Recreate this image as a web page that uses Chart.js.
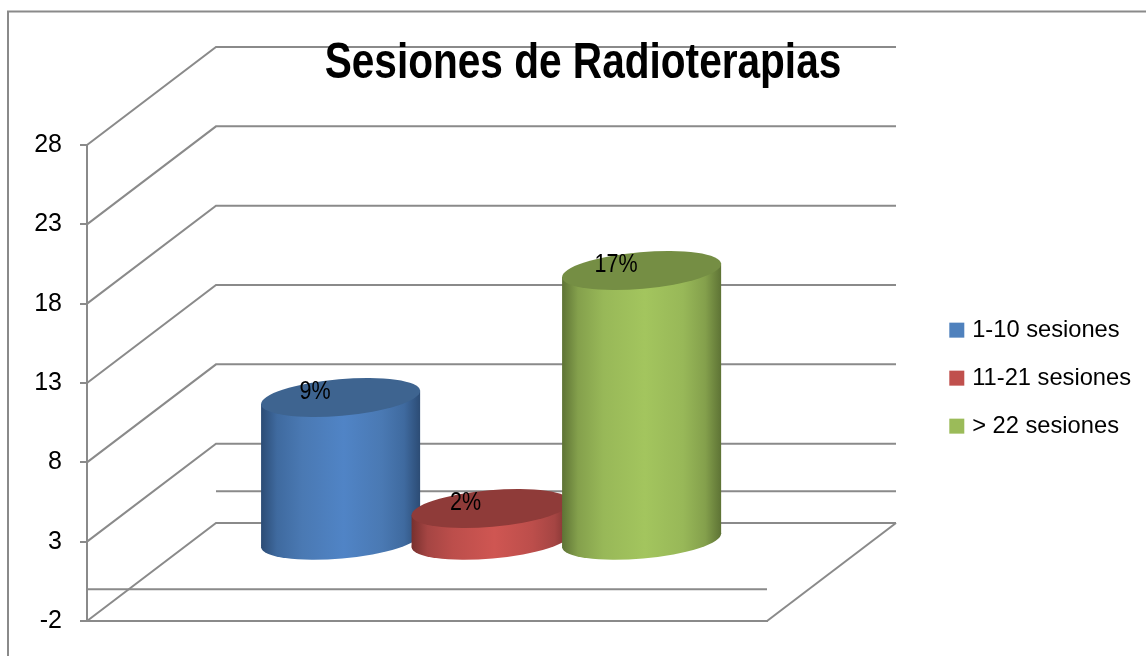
<!DOCTYPE html>
<html lang="es">
<head>
<meta charset="utf-8">
<title>Sesiones de Radioterapias</title>
<script src="https://cdn.jsdelivr.net/npm/chart.js@4"></script>
<style>
html,body{margin:0;padding:0;background:#fff;overflow:hidden}
canvas{display:block}
</style>
</head>
<body>
<canvas id="c" width="1146" height="656"></canvas>
<script>
const chartTitle = 'Sesiones de Radioterapias';
const categories = [''];
const seriesNames = ['1-10 sesiones', '11-21 sesiones', '> 22 sesiones'];
const seriesValues = [9, 2, 17];
const seriesLabels = ['9%', '2%', '17%'];
const axisMin = -2;
const axisMax = 28;
const axisStep = 5;

const baseColors = ['#4f81bd', '#c0504d', '#9bbb59'];
const sideShades = [
  ['#2c4c75', '#3f6a9f', '#4a79b3', '#5084c6', '#4a79b3', '#3f6a9f', '#2c4c75'],
  ['#78302e', '#a54543', '#bc4e4b', '#cf5652', '#bc4e4b', '#a54543', '#78302e'],
  ['#5e7335', '#84a04c', '#98b858', '#a3c55e', '#98b858', '#84a04c', '#5e7335']
];
const capColors = ['#3e6490', '#8f3b39', '#758e44'];
const shadeStops = [0, 0.1, 0.26, 0.52, 0.76, 0.9, 1];

const GRID = '#8a8a8a';
const DEPTH_X = 129, DEPTH_Y = 98;
const TILT = -5 * Math.PI / 180;
const TITLE_CENTER = 583, TITLE_SQUEEZE = 0.82;

function line(ctx, pts) {
  ctx.beginPath();
  pts.forEach((p, i) => i ? ctx.lineTo(p[0], p[1]) : ctx.moveTo(p[0], p[1]));
  ctx.stroke();
}

const scene = {
  id: 'scene',
  afterLayout(chart) {
    const t = chart.titleBlock;
    t.left = 0; t.right = TITLE_CENTER * 2;
    if (!t._squeezed) {
      const draw = t.draw.bind(t);
      t.draw = () => {
        const ctx = chart.ctx;
        ctx.save();
        ctx.translate(TITLE_CENTER, 0);
        ctx.scale(TITLE_SQUEEZE, 1);
        ctx.translate(-TITLE_CENTER, 0);
        draw();
        ctx.restore();
      };
      t._squeezed = true;
    }
    const l = chart.legend;
    l.left = 929; l.right = chart.width; l.top = 294; l.bottom = 600;
  },
  beforeDraw(chart) {
    const ctx = chart.ctx, y = chart.scales.y, a = chart.chartArea;
    ctx.save();
    ctx.fillStyle = '#fff';
    ctx.fillRect(0, 0, chart.width, chart.height);
    ctx.strokeStyle = GRID;
    ctx.lineWidth = 2;
    line(ctx, [[8, chart.height], [8, 11.5], [chart.width, 11.5]]);
    y.ticks.forEach(t => {
      const py = y.getPixelForValue(t.value);
      line(ctx, [[a.left, py], [a.left + DEPTH_X, py - DEPTH_Y], [a.right + DEPTH_X, py - DEPTH_Y]]);
    });
    const bottom = y.getPixelForValue(axisMin);
    line(ctx, [[a.right, bottom], [a.right + DEPTH_X, bottom - DEPTH_Y]]);
    const zero = y.getPixelForValue(0);
    line(ctx, [[a.left, zero], [a.right, zero]]);
    line(ctx, [[a.left + DEPTH_X, zero - DEPTH_Y], [a.right + DEPTH_X, zero - DEPTH_Y]]);
    ctx.restore();
  },
  beforeDatasetsDraw(chart) {
    const ctx = chart.ctx;
    const dx = DEPTH_X / 2, dy = DEPTH_Y / 2;
    chart.data.datasets.forEach((ds, i) => {
      const bar = chart.getDatasetMeta(i).data[0];
      const cx = bar.x + dx - 0.4, top = bar.y - dy, base = bar.base - dy;
      const rx = bar.width / 2 + 0.8, ry = rx * 0.229;
      const ex = Math.sqrt(rx * rx * Math.cos(TILT) ** 2 + ry * ry * Math.sin(TILT) ** 2);
      const off = (rx * rx - ry * ry) * Math.sin(TILT) * Math.cos(TILT) / ex;
      const g = ctx.createLinearGradient(cx - ex, 0, cx + ex, 0);
      shadeStops.forEach((s, k) => g.addColorStop(s, sideShades[i][k]));
      ctx.save();
      ctx.fillStyle = g;
      ctx.beginPath();
      ctx.ellipse(cx, base, rx, ry, TILT, 0, Math.PI * 2);
      ctx.fill();
      ctx.beginPath();
      ctx.moveTo(cx - ex, top - off);
      ctx.lineTo(cx - ex, base - off);
      ctx.lineTo(cx + ex, base + off);
      ctx.lineTo(cx + ex, top + off);
      ctx.closePath();
      ctx.fill();
      ctx.fillStyle = capColors[i];
      ctx.beginPath();
      ctx.ellipse(cx, top, rx, ry, TILT, 0, Math.PI * 2);
      ctx.fill();
      ctx.restore();
    });
    chart.data.datasets.forEach((ds, i) => {
      const bar = chart.getDatasetMeta(i).data[0];
      ctx.save();
      ctx.fillStyle = '#000';
      ctx.font = '25px "Liberation Sans"';
      ctx.textAlign = 'center';
      ctx.textBaseline = 'middle';
      ctx.translate(bar.x + dx - 26, bar.y - dy - 5);
      ctx.scale(0.86, 1);
      ctx.fillText(seriesLabels[i], 0, 0);
      ctx.restore();
    });
    return false;
  }
};

new Chart(document.getElementById('c'), {
  type: 'bar',
  data: {
    labels: categories,
    datasets: seriesNames.map((name, i) => ({
      label: name,
      data: [seriesValues[i]],
      backgroundColor: baseColors[i],
      borderColor: baseColors[i],
      borderWidth: 8,
      categoryPercentage: 0.664,
      barPercentage: 1.05
    }))
  },
  plugins: [scene],
  options: {
    responsive: false,
    animation: false,
    layout: { padding: { left: 0, right: 379, top: 0, bottom: 35 } },
    plugins: {
      tooltip: { enabled: false },
      title: {
        display: true,
        text: chartTitle,
        color: '#000',
        font: { family: '"Liberation Sans"', size: 49.5, weight: 'bold', lineHeight: 1.2 },
        padding: { top: 34.3, bottom: 51.3 }
      },
      legend: {
        display: true,
        position: 'chartArea',
        align: 'start',
        labels: {
          color: '#000',
          font: { family: '"Liberation Sans"', size: 23.7 },
          boxWidth: 7,
          boxHeight: 7,
          padding: 24.3
        }
      }
    },
    scales: {
      x: {
        offset: true,
        ticks: { display: false },
        grid: { display: false },
        border: { display: true, color: GRID, width: 2 },
        afterFit(s) { s.height = 0; }
      },
      y: {
        min: axisMin,
        max: axisMax,
        ticks: {
          stepSize: axisStep,
          color: '#000',
          padding: 18,
          font: { family: '"Liberation Sans"', size: 25 }
        },
        grid: { drawOnChartArea: false, color: GRID, lineWidth: 2, tickLength: 7 },
        border: { display: true, color: GRID, width: 2 },
        afterFit(s) { s.width = 87; }
      }
    }
  }
});
</script>
</body>
</html>
